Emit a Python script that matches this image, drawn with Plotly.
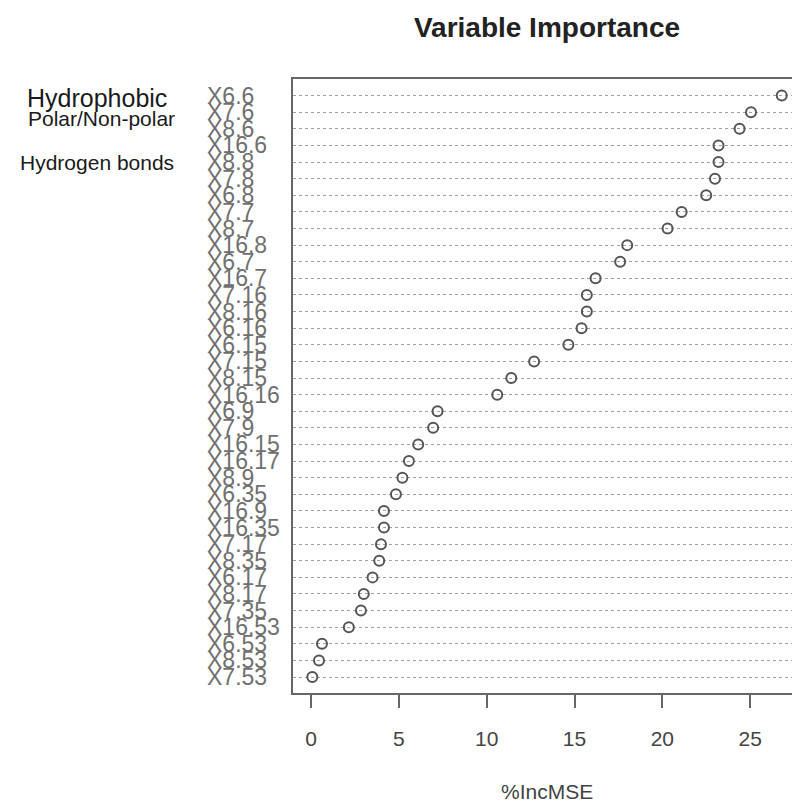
import plotly.graph_objects as go

# Variables, top to bottom as shown in the chart
variables = ["X6.6", "X7.6", "X8.6", "X16.6", "X8.8", "X7.8", "X6.8", "X7.7", "X8.7",
             "X16.8", "X6.7", "X16.7", "X7.16", "X8.16", "X6.16", "X6.15", "X7.15",
             "X8.15", "X16.16", "X6.9", "X7.9", "X16.15", "X16.17", "X8.9", "X6.35",
             "X16.9", "X16.35", "X7.17", "X8.35", "X6.17", "X8.17", "X7.35", "X16.53",
             "X6.53", "X8.53", "X7.53"]
inc_mse = [26.8, 25.05, 24.4, 23.2, 23.2, 23.0, 22.5, 21.1, 20.3,
           18.0, 17.6, 16.2, 15.7, 15.7, 15.4, 14.65, 12.7,
           11.4, 10.6, 7.2, 6.95, 6.1, 5.57, 5.2, 4.83,
           4.15, 4.15, 3.98, 3.88, 3.5, 3.0, 2.84, 2.15,
           0.62, 0.45, 0.07]
x_ticks = [0, 5, 10, 15, 20, 25]
side_notes = ["Hydrophobic", "Polar/Non-polar", "Hydrogen bonds"]

# bottom-to-top order for the categorical axis
cats = variables[::-1]
vals = inc_mse[::-1]

OFF = 8  # page body margin
W, H = 800 - OFF, 804 - OFF
# target positions in screenshot pixels
PL, PR, PT, PB = 293, 800, 79, 693
L, R, T, B = PL - OFF, 0, PT - OFF, H - (PB - OFF)
pw, ph = W - L - R, H - T - B

def px_x(p):
    return (p - PL) / pw

def px_y(p):
    return (PB - p) / ph

fig = go.Figure()
fig.add_trace(go.Scatter(
    x=vals, y=cats, mode="markers",
    marker=dict(symbol="circle-open", size=10, color="#555555",
                line=dict(width=2, color="#555555")),
    hoverinfo="x+y", showlegend=False,
))

annotations = []
for v in variables:
    annotations.append(dict(
        x=px_x(205), xref="paper", y=v, yref="y", text=v, showarrow=False,
        xanchor="left", yanchor="middle",
        font=dict(family="Liberation Sans, Arial", size=23, color="#707070"),
    ))

note_pos = [(25, 98, 25), (26, 118, 21), (18, 163, 21)]
for txt, (xp, yp, fs) in zip(side_notes, note_pos):
    annotations.append(dict(
        x=px_x(xp), xref="paper", y=px_y(yp), yref="paper", text=txt,
        showarrow=False, xanchor="left", yanchor="middle",
        font=dict(family="Liberation Sans, Arial", size=fs, color="#1a1a1a"),
    ))

annotations.append(dict(
    x=px_x(547), xref="paper", y=px_y(791), yref="paper", text="%IncMSE",
    showarrow=False, xanchor="center", yanchor="middle",
    font=dict(family="Liberation Sans, Arial", size=21, color="#444444"),
))

fig.update_layout(
    width=W, height=H,
    margin=dict(l=L, r=R, t=T, b=B, pad=0),
    paper_bgcolor="white", plot_bgcolor="white",
    title=dict(text="<b>Variable Importance</b>", x=px_x(547), xref="paper",
               xanchor="center", y=1 - (27 - OFF) / H, yref="container", yanchor="middle",
               font=dict(family="Liberation Sans, Arial", size=28, color="#222222")),
    annotations=annotations,
    xaxis=dict(
        range=[-1.03, 27.84], tickvals=x_ticks, ticktext=[str(t) for t in x_ticks],
        showgrid=False, zeroline=False,
        showline=True, linecolor="#666666", linewidth=2, mirror=True,
        ticks="outside", ticklen=13, tickwidth=2, tickcolor="#666666",
        tickfont=dict(family="Liberation Sans, Arial", size=21, color="#444444"),
        ticklabelstandoff=13,
    ),
    yaxis=dict(
        type="category", categoryorder="array", categoryarray=cats,
        range=[-0.96, 36.0],
        showticklabels=False, ticks="",
        showgrid=True, gridcolor="#a0a0a0", gridwidth=1, griddash="dot",
        zeroline=False,
        showline=True, linecolor="#666666", linewidth=2, mirror=False,
    ),
)

fig.write_html("out.html")
